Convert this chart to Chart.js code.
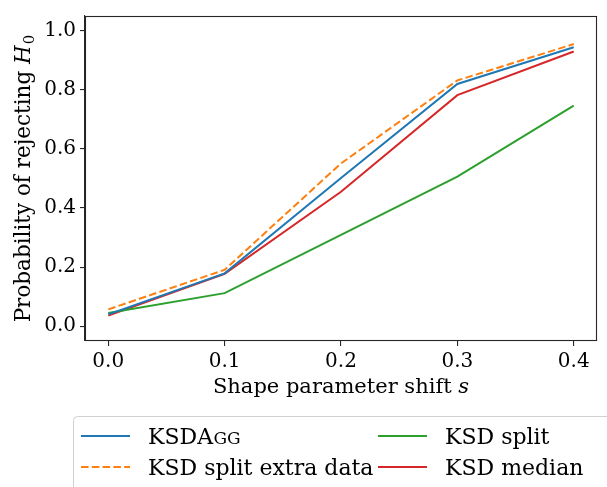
<!DOCTYPE html>
<html>
<head>
<meta charset="utf-8">
<script src="https://cdn.jsdelivr.net/npm/chart.js@4.4.1/dist/chart.umd.min.js"></script>
<style>
  html, body { margin: 0; padding: 0; background: #fff; }
  #wrap { width: 607px; height: 487px; }
</style>
</head>
<body>
<div id="wrap"><canvas id="c" width="607" height="487"></canvas></div>
<script>
const shifts = [0.0, 0.1, 0.2, 0.3, 0.4];
const ksdAgg = [0.040, 0.179, 0.502, 0.820, 0.944];
const ksdSplitExtra = [0.057, 0.191, 0.551, 0.832, 0.955];
const ksdSplit = [0.045, 0.112, 0.309, 0.506, 0.747];
const ksdMedian = [0.036, 0.177, 0.455, 0.782, 0.930];
const xTickValues = [0.0, 0.1, 0.2, 0.3, 0.4];
const yTickValues = [0.0, 0.2, 0.4, 0.6, 0.8, 1.0];
const xTitle = "Shape parameter shift ";
const xTitleVar = "s";
const yTitle = "Probability of rejecting ";
const yTitleVar = "H";
const yTitleSub = "0";
const legendLabels = ["KSDA", "KSD split extra data", "KSD split", "KSD median"];
const legendSmallCaps = "GG";

const FONT = "'DejaVu Serif', 'Liberation Serif', serif";
const FS_TICK = 20;
const FS_XT = 21;
const FS_YT = 21.5;
const FS_LEG = 22;

function pts(ys) { return shifts.map((x, i) => ({ x: x, y: ys[i] })); }

const frameColor = '#262626';

const decor = {
  id: 'decor',
  afterDraw(chart) {
    const ctx = chart.ctx;
    const a = chart.chartArea;
    ctx.save();
    ctx.strokeStyle = frameColor;
    ctx.lineWidth = 1.1;
    ctx.strokeRect(a.left + 0.5, a.top + 0.5, a.right - a.left - 1, a.bottom - a.top - 1);
    ctx.fillStyle = '#000';
    ctx.textBaseline = 'alphabetic';
    // x title
    ctx.font = FS_XT + "px " + FONT;
    const w1 = ctx.measureText(xTitle).width;
    ctx.font = "italic " + FS_XT + "px " + FONT;
    const w2 = ctx.measureText(xTitleVar).width;
    const cx = (a.left + a.right) / 2;
    const x0 = cx - (w1 + w2) / 2;
    const ty = 393;
    ctx.font = FS_XT + "px " + FONT;
    ctx.fillText(xTitle, x0, ty);
    ctx.font = "italic " + FS_XT + "px " + FONT;
    ctx.fillText(xTitleVar, x0 + w1, ty);
    // y title
    ctx.save();
    ctx.translate(30, (a.top + a.bottom) / 2);
    ctx.rotate(-Math.PI / 2);
    ctx.font = FS_YT + "px " + FONT;
    const v1 = ctx.measureText(yTitle).width;
    ctx.font = "italic " + FS_YT + "px " + FONT;
    const v2 = ctx.measureText(yTitleVar).width;
    ctx.font = Math.round(FS_YT * 0.7) + "px " + FONT;
    const v3 = ctx.measureText(yTitleSub).width;
    const y0 = -(v1 + v2 + v3 + 1) / 2;
    ctx.font = FS_YT + "px " + FONT;
    ctx.fillText(yTitle, y0, 0);
    ctx.font = "italic " + FS_YT + "px " + FONT;
    ctx.fillText(yTitleVar, y0 + v1, 0);
    ctx.font = Math.round(FS_YT * 0.7) + "px " + FONT;
    ctx.fillText(yTitleSub, y0 + v1 + v2 + 1, 4);
    ctx.restore();
    // legend box
    const bx = 73.5, by = 416.5, bw = 600, bh = 100, r = 4;
    ctx.beginPath();
    ctx.moveTo(bx + r, by);
    ctx.lineTo(bx + bw, by);
    ctx.lineTo(bx + bw, by + bh);
    ctx.lineTo(bx, by + bh);
    ctx.lineTo(bx, by + r);
    ctx.quadraticCurveTo(bx, by, bx + r, by);
    ctx.closePath();
    ctx.fillStyle = 'rgba(255,255,255,0.8)';
    ctx.fill();
    ctx.strokeStyle = '#d0d0d0';
    ctx.lineWidth = 1;
    ctx.stroke();
    const ds = chart.data.datasets;
    const items = [
      { d: ds[0], x: 81, y: 436 },
      { d: ds[1], x: 81, y: 467 },
      { d: ds[2], x: 378, y: 436 },
      { d: ds[3], x: 378, y: 467 }
    ];
    items.forEach((it, i) => {
      ctx.beginPath();
      ctx.strokeStyle = it.d.borderColor;
      ctx.lineWidth = 2;
      ctx.setLineDash(it.d.borderDash || []);
      ctx.moveTo(it.x, it.y);
      ctx.lineTo(it.x + 49, it.y);
      ctx.stroke();
      ctx.setLineDash([]);
      ctx.fillStyle = '#000';
      ctx.textBaseline = 'alphabetic';
      ctx.font = FS_LEG + "px " + FONT;
      const m = ctx.measureText("K");
      const base = it.y + (m.actualBoundingBoxAscent - m.actualBoundingBoxDescent) / 2;
      const tx = it.x + 67;
      ctx.fillText(legendLabels[i], tx, base);
      if (i === 0) {
        const lw = ctx.measureText(legendLabels[i]).width;
        ctx.font = Math.round(FS_LEG * 0.76) + "px " + FONT;
        ctx.fillText(legendSmallCaps, tx + lw + 0.5, base);
      }
    });
    ctx.restore();
  }
};

new Chart(document.getElementById('c'), {
  type: 'line',
  data: {
    datasets: [
      { label: 'KSDAgg', data: pts(ksdAgg), borderColor: '#1f77b4', borderWidth: 2, pointRadius: 0, fill: false, tension: 0 },
      { label: 'KSD split extra data', data: pts(ksdSplitExtra), borderColor: '#ff7f0e', borderWidth: 2, borderDash: [7.5, 3.3], pointRadius: 0, fill: false, tension: 0 },
      { label: 'KSD split', data: pts(ksdSplit), borderColor: '#2ca02c', borderWidth: 2, pointRadius: 0, fill: false, tension: 0 },
      { label: 'KSD median', data: pts(ksdMedian), borderColor: '#d62728', borderWidth: 2, pointRadius: 0, fill: false, tension: 0 }
    ]
  },
  options: {
    responsive: false,
    animation: false,
    devicePixelRatio: 1,
    layout: { padding: { left: 0, top: 5, right: 10, bottom: 85 } },
    plugins: { legend: { display: false }, tooltip: { enabled: false }, title: { display: false } },
    scales: {
      x: {
        type: 'linear', min: -0.02, max: 0.42,
        afterBuildTicks: s => { s.ticks = xTickValues.map(v => ({ value: v })); },
        afterFit: s => { s.height = 61; },
        ticks: { color: '#000', font: { family: FONT, size: FS_TICK }, padding: 4, maxRotation: 0, callback: v => Number(v).toFixed(1) },
        grid: { drawOnChartArea: false, drawTicks: true, tickLength: 5, color: frameColor, lineWidth: 1.1 },
        border: { display: true, color: frameColor, width: 1.1 }
      },
      y: {
        type: 'linear', min: -0.05, max: 1.05,
        afterBuildTicks: s => { s.ticks = yTickValues.map(v => ({ value: v })); },
        afterFit: s => { s.width = 85; },
        ticks: { color: '#000', font: { family: FONT, size: FS_TICK }, padding: 4, callback: v => Number(v).toFixed(1) },
        grid: { drawOnChartArea: false, drawTicks: true, tickLength: 5, color: frameColor, lineWidth: 1.1 },
        border: { display: true, color: frameColor, width: 1.1 }
      }
    }
  },
  plugins: [decor]
});
</script>
</body>
</html>
